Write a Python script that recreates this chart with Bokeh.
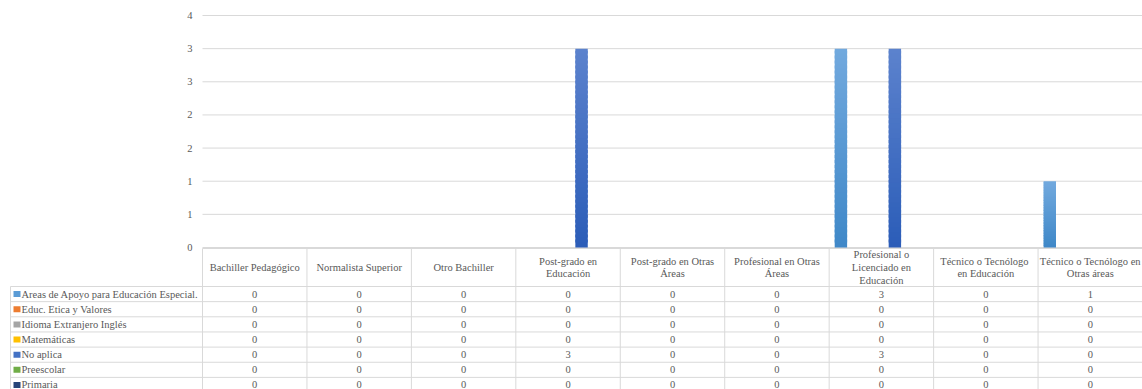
import numpy as np
from bokeh.plotting import figure
from bokeh.models import Range1d
from bokeh.core.properties import value
from bokeh.embed import file_html
from bokeh.resources import INLINE

# ---- data -------------------------------------------------------------
categories = [
    "Bachiller Pedagógico",
    "Normalista Superior",
    "Otro Bachiller",
    "Post-grado en\nEducación",
    "Post-grado en Otras\nÁreas",
    "Profesional en Otras\nÁreas",
    "Profesional o\nLicenciado en\nEducación",
    "Técnico o  Tecnólogo\nen Educación",
    "Técnico o Tecnólogo en\nOtras áreas",
]
series_names = [
    "Areas de Apoyo para Educación Especial.",
    "Educ. Etica y Valores",
    "Idioma Extranjero Inglés",
    "Matemáticas",
    "No aplica",
    "Preescolar",
    "Primaria",
]
areas_apoyo = [0, 0, 0, 0, 0, 0, 3, 0, 1]
educ_etica = [0, 0, 0, 0, 0, 0, 0, 0, 0]
idioma_ingles = [0, 0, 0, 0, 0, 0, 0, 0, 0]
matematicas = [0, 0, 0, 0, 0, 0, 0, 0, 0]
no_aplica = [0, 0, 0, 3, 0, 0, 3, 0, 0]
preescolar = [0, 0, 0, 0, 0, 0, 0, 0, 0]
primaria = [0, 0, 0, 0, 0, 0, 0, 0, 0]
series_values = [areas_apoyo, educ_etica, idioma_ingles, matematicas,
                 no_aplica, preescolar, primaria]
y_ticks = [0, 0.5, 1, 1.5, 2, 2.5, 3, 3.5]

# ---- styling ----------------------------------------------------------
colors = ["#5b9bd5", "#ed7d31", "#a5a5a5", "#ffc000", "#4472c4", "#70ad47", "#264478"]
grad_top = ["#72a9de", "#f29a5e", "#bcbcbc", "#ffcd40", "#5c82cd", "#8bbd69", "#3a5a94"]
grad_bot = ["#3f88c8", "#d96a1f", "#8f8f8f", "#e6ad00", "#2b5db8", "#5a9438", "#1c355f"]
FONT = value("'Liberation Serif', 'Times New Roman', 'DejaVu Serif', serif")
TXT = "#595959"
LINE = "#d9d9d9"
FS = "10.5px"

W, H = 1142, 389
PLOT_L, PLOT_R = 202, 1142
PLOT_T, PLOT_B = 15, 247
N = len(categories)
cat_w = (PLOT_R - PLOT_L) / N
ymax = 3.5
px_per_unit = (PLOT_B - PLOT_T) / ymax

p = figure(width=W, height=H, x_range=Range1d(0, W), y_range=Range1d(H, 0),
           x_axis_type=None, y_axis_type=None, output_backend="svg",
           toolbar_location=None, min_border=0)
p.grid.visible = False
p.outline_line_color = None
p.background_fill_color = "white"
p.border_fill_color = "white"

# category scale (one unit per category) and value scale
p.extra_x_ranges = {"cat": Range1d(-PLOT_L / cat_w, N)}
p.extra_y_ranges = {"val": Range1d(-(H - PLOT_B) / px_per_unit, ymax + PLOT_T / px_per_unit)}

# gridlines
p.segment(x0=[0] * len(y_ticks), x1=[N] * len(y_ticks), y0=y_ticks, y1=y_ticks,
          x_range_name="cat", y_range_name="val", line_color=LINE, line_width=1)


def excel_round(t):
    return str(int(np.floor(t + 0.5)))


p.text(x=[192] * len(y_ticks), y=y_ticks, text=[excel_round(t) for t in y_ticks],
       y_range_name="val", text_font=FONT, text_font_size=FS,
       text_color=TXT, text_align="right", text_baseline="middle")

# clustered bars with a vertical gradient
ns = len(series_names)
step = 1 / (ns + 0.74)
bar_w = step * 0.92
n_slices = 40


def mix(c1, c2, f):
    a = np.array([int(c1[i:i + 2], 16) for i in (1, 3, 5)])
    b = np.array([int(c2[i:i + 2], 16) for i in (1, 3, 5)])
    c = (a * (1 - f) + b * f).round().astype(int)
    return "#%02x%02x%02x" % tuple(c)


for s, vals in enumerate(series_values):
    L, R, B, T, C = [], [], [], [], []
    for i, v in enumerate(vals):
        if v <= 0:
            continue
        xc = i + 0.5 + (s - (ns - 1) / 2) * step
        for k in range(n_slices):
            L.append(xc - bar_w / 2)
            R.append(xc + bar_w / 2)
            B.append(v * k / n_slices)
            T.append(min(v, v * (k + 1.6) / n_slices))
            C.append(mix(grad_bot[s], grad_top[s], (k + 0.5) / n_slices))
    if L:
        p.quad(left=L, right=R, bottom=B, top=T, fill_color=C, line_color=None,
               x_range_name="cat", y_range_name="val")

# data table below the plot
header_top, header_bot = 248, 286
row_h = 15.15
row_tops = [header_bot + row_h * k for k in range(ns)]

# horizontal table lines
p.segment(x0=[PLOT_L], x1=[PLOT_R], y0=[header_top], y1=[header_top],
          line_color=LINE, line_width=1)
p.segment(x0=[10] * ns, x1=[PLOT_R] * ns, y0=row_tops, y1=row_tops,
          line_color=LINE, line_width=1)
# vertical table lines
bounds = list(range(N + 1))
p.segment(x0=bounds, x1=bounds, y0=[header_top] * len(bounds), y1=[H] * len(bounds),
          x_range_name="cat", line_color=LINE, line_width=1)
p.segment(x0=[10], x1=[10], y0=[header_bot], y1=[H], line_color=LINE, line_width=1)

# category headers
p.text(x=[i + 0.5 for i in range(N)], y=[(header_top + header_bot) / 2] * N,
       text=categories, x_range_name="cat", text_font=FONT, text_font_size=FS,
       text_color=TXT, text_align="center", text_baseline="middle",
       text_line_height=1.15)

# legend keys and series names
row_mid = [t + row_h / 2 for t in row_tops]
p.rect(x=[16.5] * ns, y=row_mid, width=7, height=6, fill_color=colors,
       line_color=None)
p.text(x=[21] * ns, y=row_mid, text=series_names, text_font=FONT,
       text_font_size=FS, text_color=TXT, text_align="left",
       text_baseline="middle")

# cell values
cx, cy, ct = [], [], []
for s, vals in enumerate(series_values):
    for i, v in enumerate(vals):
        cx.append(i + 0.5)
        cy.append(row_mid[s])
        ct.append(str(v))
p.text(x=cx, y=cy, text=ct, x_range_name="cat", text_font=FONT,
       text_font_size=FS, text_color=TXT, text_align="center",
       text_baseline="middle")

open("out.html", "w").write(file_html(p, INLINE))
